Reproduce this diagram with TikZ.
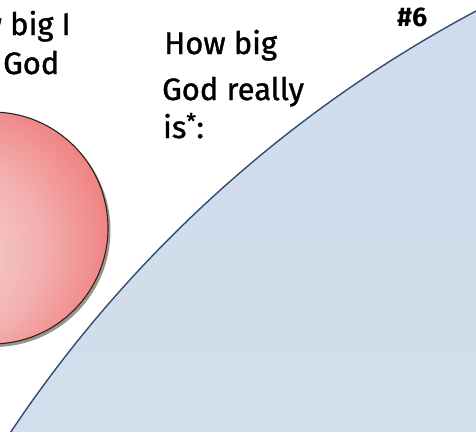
\documentclass[tikz,border=0pt]{standalone}
\usepackage{fontspec}
\setmainfont{Fira Sans}
\newfontfamily\handfont{Fira Sans}[FakeBold=1.2]
\definecolor{pinklight}{HTML}{F6E2E2}
\definecolor{pinkmid}{HTML}{F3B0B0}
\definecolor{pinkred}{HTML}{EE5252}
\definecolor{bluefillA}{HTML}{CFDBEB}
\definecolor{bluefillB}{HTML}{E0E8F2}
\definecolor{blueedge}{HTML}{2E4C74}
\pgfdeclareradialshading{redball}{\pgfpoint{-16bp}{-8bp}}{color(0bp)=(pinklight); color(20bp)=(pinkmid); color(44bp)=(pinkred); color(50bp)=(pinkred)}
\tikzset{
  bigtext/.style={font=\handfont\fontsize{31}{36}\selectfont, anchor=base west, inner sep=0pt},
  lefttext/.style={font=\handfont\fontsize{31}{36}\selectfont, anchor=base east, inner sep=0pt},
  numtext/.style={font=\bfseries\fontsize{27}{30}\selectfont, anchor=base west, inner sep=0pt}
}
\begin{document}
\begin{tikzpicture}[x=1pt,y=-1pt]
\useasboundingbox (0,0) rectangle (476,431);
\clip (0,0) rectangle (476,431);
\fill[white] (0,0) rectangle (476,431);
% big blue circle
\shade[top color=bluefillA, bottom color=bluefillB, draw=blueedge, line width=1.4pt]
  (1076,1142) circle[radius=1280];
% red circle shadow
\fill[black!70!olive, opacity=0.55] (-6,230.5) circle[radius=116.5];
% red circle
\shade[shading=redball, draw=black!85, line width=1.1pt] (-8,228) circle[radius=116];
% texts
\node[lefttext] (l1) at (71,35) {How big I};
\node[bigtext] (l2) at (3,74) {God};
\node[bigtext] (t1) at (164,54) {How big};
\node[bigtext] (t2) at (162,100) {God really};
\node[bigtext] (t3) at (163,138) {is\textsuperscript{*}:};
\node[numtext] (n6) at (397,27) {\#6};
\end{tikzpicture}
\end{document}
